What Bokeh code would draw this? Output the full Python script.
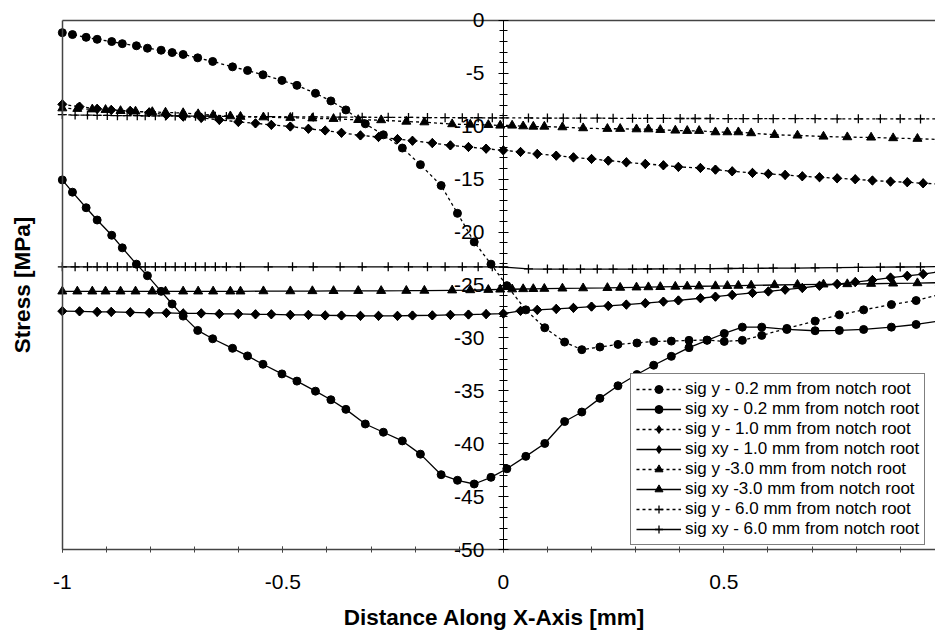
import numpy as np
from bokeh.plotting import figure
from bokeh.models import (Range1d, LinearAxis, FixedTicker, SingleIntervalTicker,
                          NumeralTickFormatter, CustomJSTickFormatter, Legend, LegendItem,
                          ColumnDataSource)
from bokeh.embed import file_html
from bokeh.resources import INLINE

# ---------------- data ----------------
# 0.2 mm from notch root
x_02 = [-1.0, -0.977, -0.946, -0.921, -0.888, -0.864, -0.832, -0.807, -0.776, -0.751,
        -0.726, -0.693, -0.659, -0.614, -0.580, -0.545, -0.502, -0.468, -0.426, -0.391,
        -0.357, -0.313, -0.272, -0.229, -0.188, -0.141, -0.104, -0.066, -0.028, 0.008,
        0.051, 0.094, 0.139, 0.178, 0.219, 0.260, 0.303, 0.341, 0.381, 0.421,
        0.462, 0.501, 0.542, 0.586, 0.643, 0.707, 0.762, 0.817, 0.880, 0.936, 0.99]
sig_y_02 = [-1.16, -1.34, -1.6, -1.79, -2.0, -2.2, -2.4, -2.63, -2.82, -3.04,
            -3.22, -3.54, -3.88, -4.39, -4.73, -5.14, -5.67, -6.14, -6.89, -7.61,
            -8.46, -9.77, -10.81, -12.06, -13.63, -15.6, -18.23, -20.93, -23.03, -25.06,
            -27.35, -29.04, -30.39, -31.11, -30.86, -30.61, -30.48, -30.33, -30.3, -30.23,
            -30.2, -30.33, -30.23, -29.76, -29.1, -28.41, -27.82, -27.35, -26.85, -26.47, -25.9]
sig_xy_02 = [-15.07, -16.23, -17.7, -18.86, -20.3, -21.49, -23.03, -24.12, -25.6, -26.79,
             -27.94, -29.29, -30.08, -30.98, -31.7, -32.49, -33.4, -34.08, -35.03, -35.84,
             -36.75, -38.13, -38.91, -39.73, -40.98, -42.92, -43.45, -43.8, -43.17, -42.36,
             -41.19, -39.97, -37.9, -37.0, -35.71, -34.52, -33.46, -32.58, -31.74, -30.92,
             -30.23, -29.58, -28.98, -28.98, -29.2, -29.32, -29.29, -29.2, -28.98, -28.73, -28.4]

# 1.0 mm from notch root
x_10 = [-1.0, -0.961, -0.921, -0.889, -0.846, -0.803, -0.764, -0.726, -0.685, -0.644,
        -0.601, -0.562, -0.526, -0.483, -0.442, -0.404, -0.367, -0.324, -0.283, -0.240,
        -0.206, -0.161, -0.120, -0.079, -0.039, 0.000, 0.039, 0.077, 0.120, 0.159,
        0.200, 0.238, 0.279, 0.322, 0.363, 0.397, 0.447, 0.481, 0.519, 0.565,
        0.601, 0.639, 0.678, 0.717, 0.757, 0.798, 0.837, 0.878, 0.916, 0.952, 0.99]
sig_y_10 = [-7.93, -8.15, -8.36, -8.46, -8.55, -8.69, -8.93, -9.09, -9.21, -9.4,
            -9.59, -9.73, -9.87, -10.03, -10.24, -10.4, -10.62, -10.87, -11.02, -11.21,
            -11.37, -11.59, -11.81, -11.96, -12.12, -12.28, -12.43, -12.62, -12.78, -12.94,
            -13.09, -13.25, -13.41, -13.56, -13.69, -13.84, -13.94, -14.1, -14.26, -14.41,
            -14.5, -14.6, -14.73, -14.82, -14.92, -15.01, -15.13, -15.23, -15.29, -15.39, -15.46]
sig_xy_10 = [-27.47, -27.49, -27.54, -27.54, -27.58, -27.63, -27.63, -27.68, -27.68, -27.73,
             -27.73, -27.77, -27.77, -27.82, -27.82, -27.87, -27.88, -27.91, -27.91, -27.91,
             -27.88, -27.87, -27.82, -27.79, -27.75, -27.7, -27.44, -27.35, -27.26, -27.16,
             -27.04, -26.97, -26.85, -26.72, -26.57, -26.46, -26.25, -26.1, -25.94, -25.75,
             -25.61, -25.44, -25.28, -25.07, -24.91, -24.72, -24.53, -24.3, -24.13, -23.97, -23.73]

# 3.0 mm from notch root
x_30 = [-1.0, -0.966, -0.932, -0.902, -0.868, -0.834, -0.796, -0.766, -0.726, -0.692,
        -0.658, -0.619, -0.596, -0.544, -0.483, -0.433, -0.385, -0.329, -0.277, -0.220,
        -0.179, -0.116, -0.075, -0.034, -0.007, 0.020, 0.045, 0.068, 0.093, 0.134,
        0.181, 0.236, 0.265, 0.302, 0.329, 0.356, 0.390, 0.417, 0.444, 0.481,
        0.508, 0.533, 0.562, 0.615, 0.667, 0.726, 0.780, 0.834, 0.884, 0.939, 0.99]
sig_y_30 = [-8.3, -8.35, -8.4, -8.45, -8.55, -8.6, -8.65, -8.7, -8.75, -8.85,
            -8.95, -9.05, -9.1, -9.15, -9.2, -9.25, -9.3, -9.4, -9.42, -9.56,
            -9.62, -9.8, -9.84, -9.87, -9.93, -9.93, -10.0, -10.03, -10.03, -10.09,
            -10.18, -10.24, -10.24, -10.28, -10.28, -10.34, -10.4, -10.43, -10.43, -10.56,
            -10.56, -10.56, -10.65, -10.81, -10.87, -10.97, -11.03, -11.06, -11.12, -11.18, -11.25]
sig_xy_30 = [-25.6, -25.6, -25.6, -25.6, -25.6, -25.6, -25.6, -25.6, -25.6, -25.6,
             -25.6, -25.6, -25.6, -25.58, -25.58, -25.57, -25.56, -25.55, -25.55, -25.54,
             -25.53, -25.5, -25.48, -25.45, -25.42, -25.4, -25.38, -25.37, -25.35, -25.32,
             -25.3, -25.27, -25.25, -25.22, -25.2, -25.18, -25.15, -25.13, -25.12, -25.1,
             -25.08, -25.06, -25.04, -25.0, -24.97, -24.94, -24.91, -24.88, -24.85, -24.82, -24.78]

# 6.0 mm from notch root
x_60 = [-1.0, -0.971, -0.943, -0.921, -0.898, -0.875, -0.853, -0.830, -0.812, -0.789,
        -0.766, -0.744, -0.721, -0.698, -0.676, -0.653, -0.628, -0.596, -0.533, -0.478,
        -0.431, -0.370, -0.320, -0.261, -0.215, -0.172, -0.132, -0.093, -0.057, -0.025,
        0.000, 0.057, 0.100, 0.136, 0.175, 0.213, 0.249, 0.293, 0.327, 0.363,
        0.401, 0.435, 0.469, 0.510, 0.544, 0.578, 0.612, 0.662, 0.707, 0.757,
        0.805, 0.855, 0.900, 0.946, 0.99]
sig_y_60 = [-8.9, -8.95, -8.95, -8.97, -8.98, -9.0, -9.0, -9.0, -9.02, -9.02,
            -9.03, -9.03, -9.04, -9.05, -9.05, -9.06, -9.07, -9.08, -9.1, -9.11,
            -9.12, -9.14, -9.15, -9.16, -9.17, -9.18, -9.19, -9.2, -9.2, -9.21,
            -9.21, -9.22, -9.23, -9.23, -9.24, -9.24, -9.25, -9.25, -9.26, -9.26,
            -9.27, -9.27, -9.27, -9.28, -9.28, -9.28, -9.29, -9.29, -9.29, -9.3,
            -9.3, -9.3, -9.3, -9.31, -9.31]
sig_xy_60 = [-23.28, -23.28, -23.28, -23.28, -23.28, -23.28, -23.28, -23.28, -23.28, -23.28,
             -23.28, -23.28, -23.28, -23.28, -23.28, -23.28, -23.28, -23.28, -23.28, -23.28,
             -23.28, -23.28, -23.28, -23.28, -23.28, -23.28, -23.28, -23.28, -23.28, -23.28,
             -23.3, -23.48, -23.5, -23.5, -23.5, -23.5, -23.5, -23.5, -23.49, -23.48,
             -23.47, -23.46, -23.45, -23.44, -23.43, -23.42, -23.41, -23.4, -23.38, -23.36,
             -23.34, -23.32, -23.3, -23.28, -23.26]

labels = ["sig y - 0.2 mm from notch root", "sig xy - 0.2 mm from notch root",
          "sig y - 1.0 mm from notch root", "sig xy - 1.0 mm from notch root",
          "sig y -3.0 mm from notch root", "sig xy -3.0 mm from notch root",
          "sig y - 6.0 mm from notch root", "sig xy - 6.0 mm from notch root"]

x_min, x_max = -1.0, 0.98
y_min, y_max = -50, 0
x_ticks_interval = 0.5
y_ticks_interval = 5

# ---------------- figure ----------------
FONT = "Liberation Sans"
GREY = "#444444"
# ranges padded a little so markers and end labels are not clipped by the frame
p = figure(width=935, height=632, output_backend="svg", toolbar_location=None,
           x_range=Range1d(x_min - 0.02, x_max), y_range=Range1d(y_min - 1.5, y_max + 1.5),
           min_border_left=53, min_border_right=0, min_border_top=4, min_border_bottom=64)
p.outline_line_color = None
p.xgrid.visible = False
p.ygrid.visible = False
p.background_fill_color = "white"

series = [
    (x_02, sig_y_02, True, "circle"),
    (x_02, sig_xy_02, False, "circle"),
    (x_10, sig_y_10, True, "diamond"),
    (x_10, sig_xy_10, False, "diamond"),
    (x_30, sig_y_30, True, "triangle"),
    (x_30, sig_xy_30, False, "triangle"),
    (x_60, sig_y_60, True, "cross"),
    (x_60, sig_xy_60, False, "cross"),
]

items = []
for (xs, ys, dotted, mk), lab in zip(series, labels):
    src = ColumnDataSource(dict(x=xs, y=ys))
    lr = p.line("x", "y", source=src, line_color="black", line_width=1.3,
                line_dash="3 3" if dotted else "solid")
    if mk == "circle":
        sr = p.scatter("x", "y", source=src, marker="circle", size=8,
                       fill_color="black", line_color="black")
        legend_r = [lr, sr]
    elif mk == "diamond":
        # narrow diamond (used by the legend key), covered by a rotated square
        kr = p.scatter("x", "y", source=src, marker="diamond", size=9,
                       fill_color="black", line_color="black")
        p.scatter("x", "y", source=src, marker="square", size=6.5, angle=np.pi / 4,
                  fill_color="black", line_color="black")
        legend_r = [lr, kr]
    elif mk == "triangle":
        sr = p.scatter("x", "y", source=src, marker="triangle", size=9,
                       fill_color="black", line_color="black")
        legend_r = [lr, sr]
    else:
        sr = p.scatter("x", "y", source=src, marker="cross", size=9,
                       line_color="black", line_width=1.3)
        legend_r = [lr, sr]
    items.append(LegendItem(label=lab, renderers=legend_r))

# ---- bottom: labels + title (no line), and a line with ticks at y = -50
xa = p.xaxis[0]
xa.bounds = (x_min, x_max)
xa.ticker = SingleIntervalTicker(interval=x_ticks_interval, num_minor_ticks=5)
xa.formatter = NumeralTickFormatter(format="0.[0]")
xa.axis_line_color = None
xa.major_tick_line_color = None
xa.minor_tick_line_color = None
xa.major_tick_in = 0
xa.major_tick_out = 0
xa.minor_tick_in = 0
xa.minor_tick_out = 0
xa.major_label_text_font = FONT
xa.major_label_text_font_size = "21px"
xa.major_label_text_color = "black"
xa.major_label_standoff = 9
xa.axis_label = "Distance Along X-Axis [mm]"
xa.axis_label_text_font = FONT
xa.axis_label_text_font_size = "22.5px"
xa.axis_label_text_font_style = "bold"
xa.axis_label_text_color = "black"
xa.axis_label_standoff = 13

xb = LinearAxis(fixed_location=y_min, bounds=(x_min, x_max),
                ticker=SingleIntervalTicker(interval=x_ticks_interval, num_minor_ticks=5),
                formatter=CustomJSTickFormatter(code="return ''"),
                major_tick_in=3, major_tick_out=3, minor_tick_in=3, minor_tick_out=3,
                axis_line_color=GREY, axis_line_width=1.5,
                major_tick_line_color=GREY, minor_tick_line_color=GREY)
p.add_layout(xb, "below")

# ---- y axis crossing at x = 0
ya = p.yaxis[0]
ya.fixed_location = 0
ya.bounds = (y_min, y_max)
ya.ticker = SingleIntervalTicker(interval=y_ticks_interval, num_minor_ticks=5)
ya.formatter = NumeralTickFormatter(format="0")
ya.major_tick_in = 5
ya.major_tick_out = 5
ya.minor_tick_in = 4
ya.minor_tick_out = 4
ya.axis_line_color = "black"
ya.major_label_text_font = FONT
ya.major_label_text_font_size = "21px"
ya.major_label_text_color = "black"
ya.major_label_standoff = 14

# ---- left: title only; frame borders at x = -1 and y = 0
ly = LinearAxis(ticker=FixedTicker(ticks=[]), axis_label="Stress [MPa]",
                major_tick_in=0, major_tick_out=0, minor_tick_in=0, minor_tick_out=0,
                major_label_standoff=0, axis_label_standoff=19, axis_line_color=None,
                axis_label_text_font=FONT, axis_label_text_font_size="22.5px",
                axis_label_text_font_style="bold", axis_label_text_color="black")
p.add_layout(ly, "left")

lb = LinearAxis(fixed_location=x_min, bounds=(y_min, y_max), ticker=FixedTicker(ticks=[]),
                major_tick_in=0, major_tick_out=0, minor_tick_in=0, minor_tick_out=0,
                major_label_standoff=0, axis_line_color=GREY, axis_line_width=1.5)
p.add_layout(lb, "left")
ta = LinearAxis(fixed_location=y_max, bounds=(x_min, x_max), ticker=FixedTicker(ticks=[]),
                major_tick_in=0, major_tick_out=0, minor_tick_in=0, minor_tick_out=0,
                major_label_standoff=0, axis_line_color=GREY, axis_line_width=1.5)
p.add_layout(ta, "above")

legend = Legend(items=items, location=(577, 20), padding=5, spacing=0, margin=0,
                glyph_width=45, glyph_height=20, label_height=20, label_standoff=4,
                label_text_font=FONT, label_text_font_size="17px", label_text_color="black",
                border_line_color="black", border_line_width=1.3,
                background_fill_color="white", background_fill_alpha=1.0)
p.add_layout(legend)

open("out.html", "w").write(file_html(p, INLINE))
